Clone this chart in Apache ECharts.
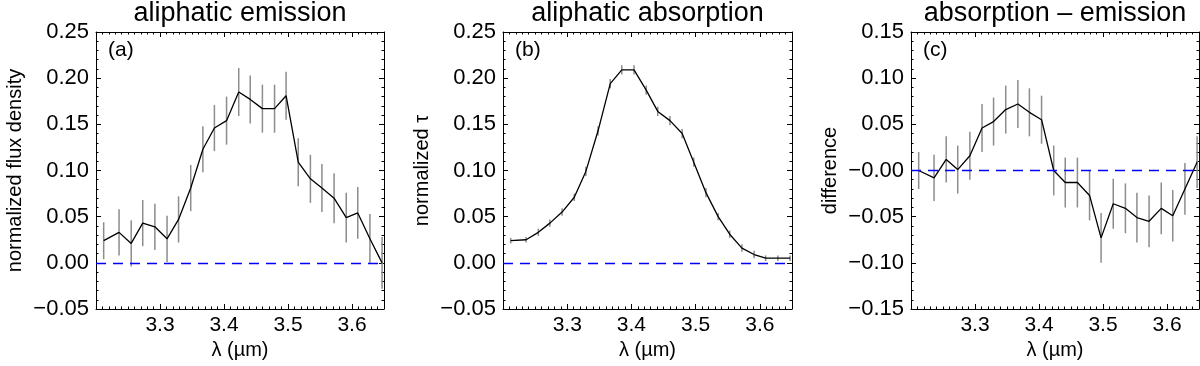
<!DOCTYPE html>
<html>
<head>
<meta charset="utf-8">
<script src="https://cdn.jsdelivr.net/npm/echarts@6/dist/echarts.min.js"></script>
<style>
html, body { margin: 0; padding: 0; background: #fff; }
#main { width: 1200px; height: 366px; }
</style>
</head>
<body>
<div id="main"></div>
<script>
// wavelength bins (micron)
var lambda = [3.212, 3.236, 3.255, 3.273, 3.292, 3.311, 3.329, 3.348, 3.367, 3.385, 3.404, 3.423,
              3.441, 3.460, 3.479, 3.497, 3.516, 3.535, 3.553, 3.572, 3.591, 3.609, 3.628, 3.647];

// (a) aliphatic emission
var emission    = [0.024, 0.033, 0.021, 0.043, 0.039, 0.026, 0.047, 0.081, 0.123, 0.146, 0.154, 0.185,
                   0.177, 0.167, 0.167, 0.181, 0.109, 0.091, 0.081, 0.070, 0.049, 0.054, 0.026, 0.000];
var emissionErr = [0.020, 0.025, 0.025, 0.025, 0.025, 0.025, 0.025, 0.025, 0.025, 0.025, 0.026, 0.026,
                   0.026, 0.026, 0.026, 0.026, 0.026, 0.026, 0.026, 0.027, 0.027, 0.028, 0.027, 0.028];

// (b) aliphatic absorption
var absorption    = [0.024, 0.025, 0.033, 0.043, 0.055, 0.071, 0.099, 0.143, 0.194, 0.209, 0.209, 0.187,
                     0.164, 0.154, 0.140, 0.109, 0.076, 0.050, 0.031, 0.016, 0.009, 0.005, 0.005, 0.005];
var absorptionErr = [0.003, 0.003, 0.004, 0.004, 0.004, 0.004, 0.005, 0.005, 0.005, 0.005, 0.005, 0.005,
                     0.005, 0.005, 0.005, 0.005, 0.005, 0.004, 0.004, 0.004, 0.004, 0.003, 0.003, 0.003];

// (c) absorption - emission
var difference    = [0.000, -0.008, 0.012, 0.001, 0.016, 0.046, 0.053, 0.066, 0.072, 0.063, 0.055, 0.000,
                     -0.013, -0.013, -0.027, -0.073, -0.036, -0.041, -0.051, -0.055, -0.041, -0.049, -0.020, 0.009];
var differenceErr = [0.020, 0.025, 0.025, 0.026, 0.026, 0.026, 0.026, 0.026, 0.026, 0.026, 0.026, 0.027,
                     0.027, 0.027, 0.027, 0.027, 0.027, 0.027, 0.027, 0.028, 0.028, 0.028, 0.028, 0.028];

var xRange = [3.2, 3.65];
var yRangeA = [-0.05, 0.25];
var yRangeC = [-0.15, 0.15];

var FONT = '"Liberation Sans", Arial, Helvetica, sans-serif';

var panels = [
    { title: 'aliphatic emission', tag: '(a)', yName: 'normalized flux density',
      y: emission, err: emissionErr, yr: yRangeA, left: 96, width: 288, negZero: false },
    { title: 'aliphatic absorption', tag: '(b)', yName: 'normalized \u03c4',
      y: absorption, err: absorptionErr, yr: yRangeA, left: 503, width: 289, negZero: false },
    { title: 'absorption \u2013 emission', tag: '(c)', yName: 'difference',
      y: difference, err: differenceErr, yr: yRangeC, left: 911, width: 288, negZero: true }
];

var fmtY = function (negZero) {
    return function (v) {
        var s = Math.abs(v).toFixed(2);
        if (v < 0 || (negZero && v === 0)) return '\u2212' + s;
        return s;
    };
};

var option = {
    animation: false,
    backgroundColor: '#fff',
    grid: [],
    xAxis: [],
    yAxis: [],
    series: [],
    graphic: []
};

panels.forEach(function (p, i) {
    option.grid.push({ left: p.left, top: 32, width: p.width, height: 277 });

    var axLine = { show: true, onZero: false, lineStyle: { color: '#000', width: 1 } };
    var tick = { show: true, inside: true, length: 5, lineStyle: { color: '#000', width: 1 } };

    var xBase = {
        type: 'value', gridIndex: i, min: xRange[0], max: xRange[1], interval: 0.1,
        axisLine: axLine, axisTick: tick,
        minorTick: { show: true, splitNumber: 10, length: 2.5, lineStyle: { color: '#000', width: 1 } },
        splitLine: { show: false }, minorSplitLine: { show: false }
    };
    var yBase = {
        type: 'value', gridIndex: i, min: p.yr[0], max: p.yr[1], interval: 0.05,
        axisLine: axLine, axisTick: tick,
        minorTick: { show: true, splitNumber: 5, length: 2.5, lineStyle: { color: '#000', width: 1 } },
        splitLine: { show: false }, minorSplitLine: { show: false }
    };

    option.xAxis.push(Object.assign({}, xBase, {
        position: 'bottom',
        name: '\u03bb (\u00b5m)', nameLocation: 'middle', nameGap: 19,
        nameTextStyle: { fontFamily: FONT, fontSize: 20, color: '#000' },
        axisLabel: { showMinLabel: false, showMaxLabel: false, margin: 6, fontFamily: FONT, fontSize: 21, color: '#000',
                     formatter: function (v) { return v.toFixed(1); } }
    }));
    option.xAxis.push(Object.assign({}, xBase, { position: 'top', axisLabel: { show: false } }));

    option.yAxis.push(Object.assign({}, yBase, {
        position: 'left',
        name: p.yName, nameLocation: 'middle', nameGap: 71,
        nameTextStyle: { fontFamily: FONT, fontSize: 20, color: '#000' },
        axisLabel: { margin: 7, fontFamily: FONT, fontSize: 22, color: '#000', formatter: fmtY(p.negZero) }
    }));
    option.yAxis.push(Object.assign({}, yBase, { position: 'right', axisLabel: { show: false } }));

    // error bars
    option.series.push({
        type: 'custom', xAxisIndex: 2 * i, yAxisIndex: 2 * i, silent: true, clip: true,
        data: lambda.map(function (x, k) { return [x, p.y[k] - p.err[k], p.y[k] + p.err[k]]; }),
        encode: { x: 0, y: [1, 2] },
        renderItem: function (params, api) {
            var lo = api.coord([api.value(0), api.value(1)]);
            var hi = api.coord([api.value(0), api.value(2)]);
            return { type: 'line', shape: { x1: lo[0], y1: lo[1], x2: hi[0], y2: hi[1] },
                     style: { stroke: '#8c8c8c', lineWidth: 1.5 } };
        }
    });

    // profile
    option.series.push({
        type: 'line', xAxisIndex: 2 * i, yAxisIndex: 2 * i, silent: true,
        showSymbol: false, symbol: 'none',
        data: lambda.map(function (x, k) { return [x, p.y[k]]; }),
        lineStyle: { color: '#000', width: 1.3 },
        markLine: {
            silent: true, symbol: ['none', 'none'], label: { show: false },
            lineStyle: { color: '#0000ff', type: [10, 7], width: 1.3 },
            data: [{ yAxis: 0 }]
        }
    });

    option.graphic.push({
        type: 'text', x: p.left + p.width / 2, y: 0,
        style: { text: p.title, font: '27px ' + FONT, fill: '#000',
                 align: 'center', textAlign: 'center', verticalAlign: 'top', textVerticalAlign: 'top' }
    });
    option.graphic.push({
        type: 'text', x: p.left + 12, y: 40,
        style: { text: p.tag, font: '21px ' + FONT, fill: '#000',
                 align: 'left', textAlign: 'left', verticalAlign: 'top', textVerticalAlign: 'top' }
    });
});

var myChart = echarts.init(document.getElementById('main'));
myChart.setOption(option);
</script>
</body>
</html>
